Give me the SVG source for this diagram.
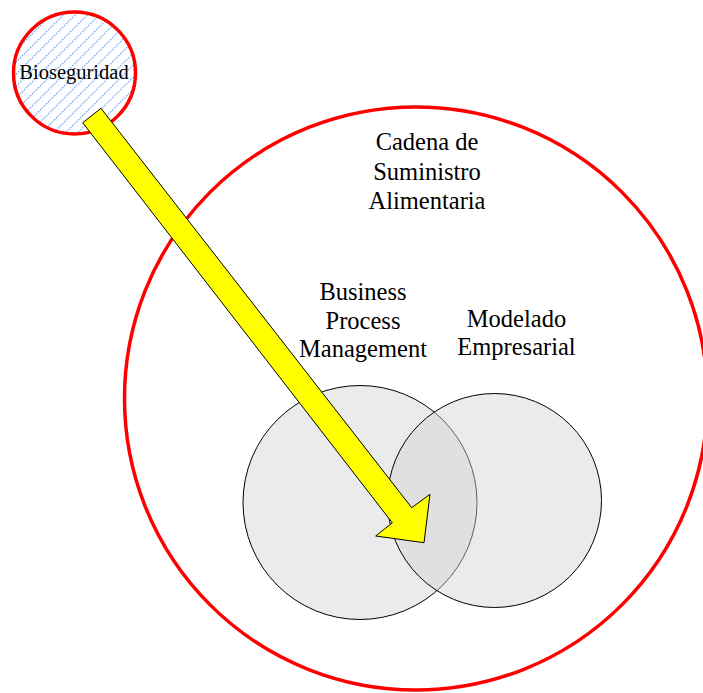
<svg xmlns="http://www.w3.org/2000/svg" width="703" height="693" viewBox="0 0 703 693">
  <defs>
    <!-- dotted blue diagonal hatch for the biosecurity disc -->
    <pattern id="hatch" patternUnits="userSpaceOnUse" width="8.5" height="8.5" patternTransform="rotate(45)">
      <line x1="4.25" y1="0" x2="4.25" y2="8.5" stroke="#4f86dc" stroke-width="1.1" stroke-dasharray="1.4 1.4"/>
    </pattern>
    <style>
      .ring { fill: none; stroke: #ff0000; stroke-width: 3.5; }
      .venn { fill: #d3d3d3; fill-opacity: 0.45; stroke: #000; stroke-width: 1; }
      .label { font-family: "Liberation Serif", "Times New Roman", serif; font-size: 24.5px; fill: #000; text-anchor: middle; }
      .small { font-size: 20.5px; }
      .arrow { fill: #ffff00; stroke: #000; stroke-width: 1; stroke-linejoin: miter; }
    </style>
  </defs>
  <rect width="703" height="693" fill="#fff"/>

  <!-- outer scope: food supply chain -->
  <g id="cadena">
    <circle class="ring" cx="416" cy="398.5" r="291.5"/>
    <text class="label" x="427" y="150">Cadena de</text>
    <text class="label" x="427" y="180">Suministro</text>
    <text class="label" x="427" y="209">Alimentaria</text>
  </g>

  <!-- overlapping disciplines -->
  <g id="bpm">
    <circle class="venn" cx="360" cy="502.5" r="117"/>
    <text class="label" x="363" y="300">Business</text>
    <text class="label" x="363" y="328.5">Process</text>
    <text class="label" x="363" y="357">Management</text>
  </g>
  <g id="modelado">
    <circle class="venn" cx="494.5" cy="500.5" r="107"/>
    <text class="label" x="516.5" y="327">Modelado</text>
    <text class="label" x="516.5" y="355">Empresarial</text>
  </g>

  <g id="bioseguridad">
    <circle cx="74.5" cy="73" r="61" fill="url(#hatch)" stroke="#ff0000" stroke-width="3.5"/>
    <text class="label small" x="74" y="79">Bioseguridad</text>
  </g>

  <!-- block arrow from biosecurity into the overlap -->
  <g id="connectors">
    <polygon class="arrow" points="82.7,122.7 101,108.3 411.7,507.7 430,494.3 424,542.7 375.7,536 392.3,522.8"/>
  </g>
</svg>
